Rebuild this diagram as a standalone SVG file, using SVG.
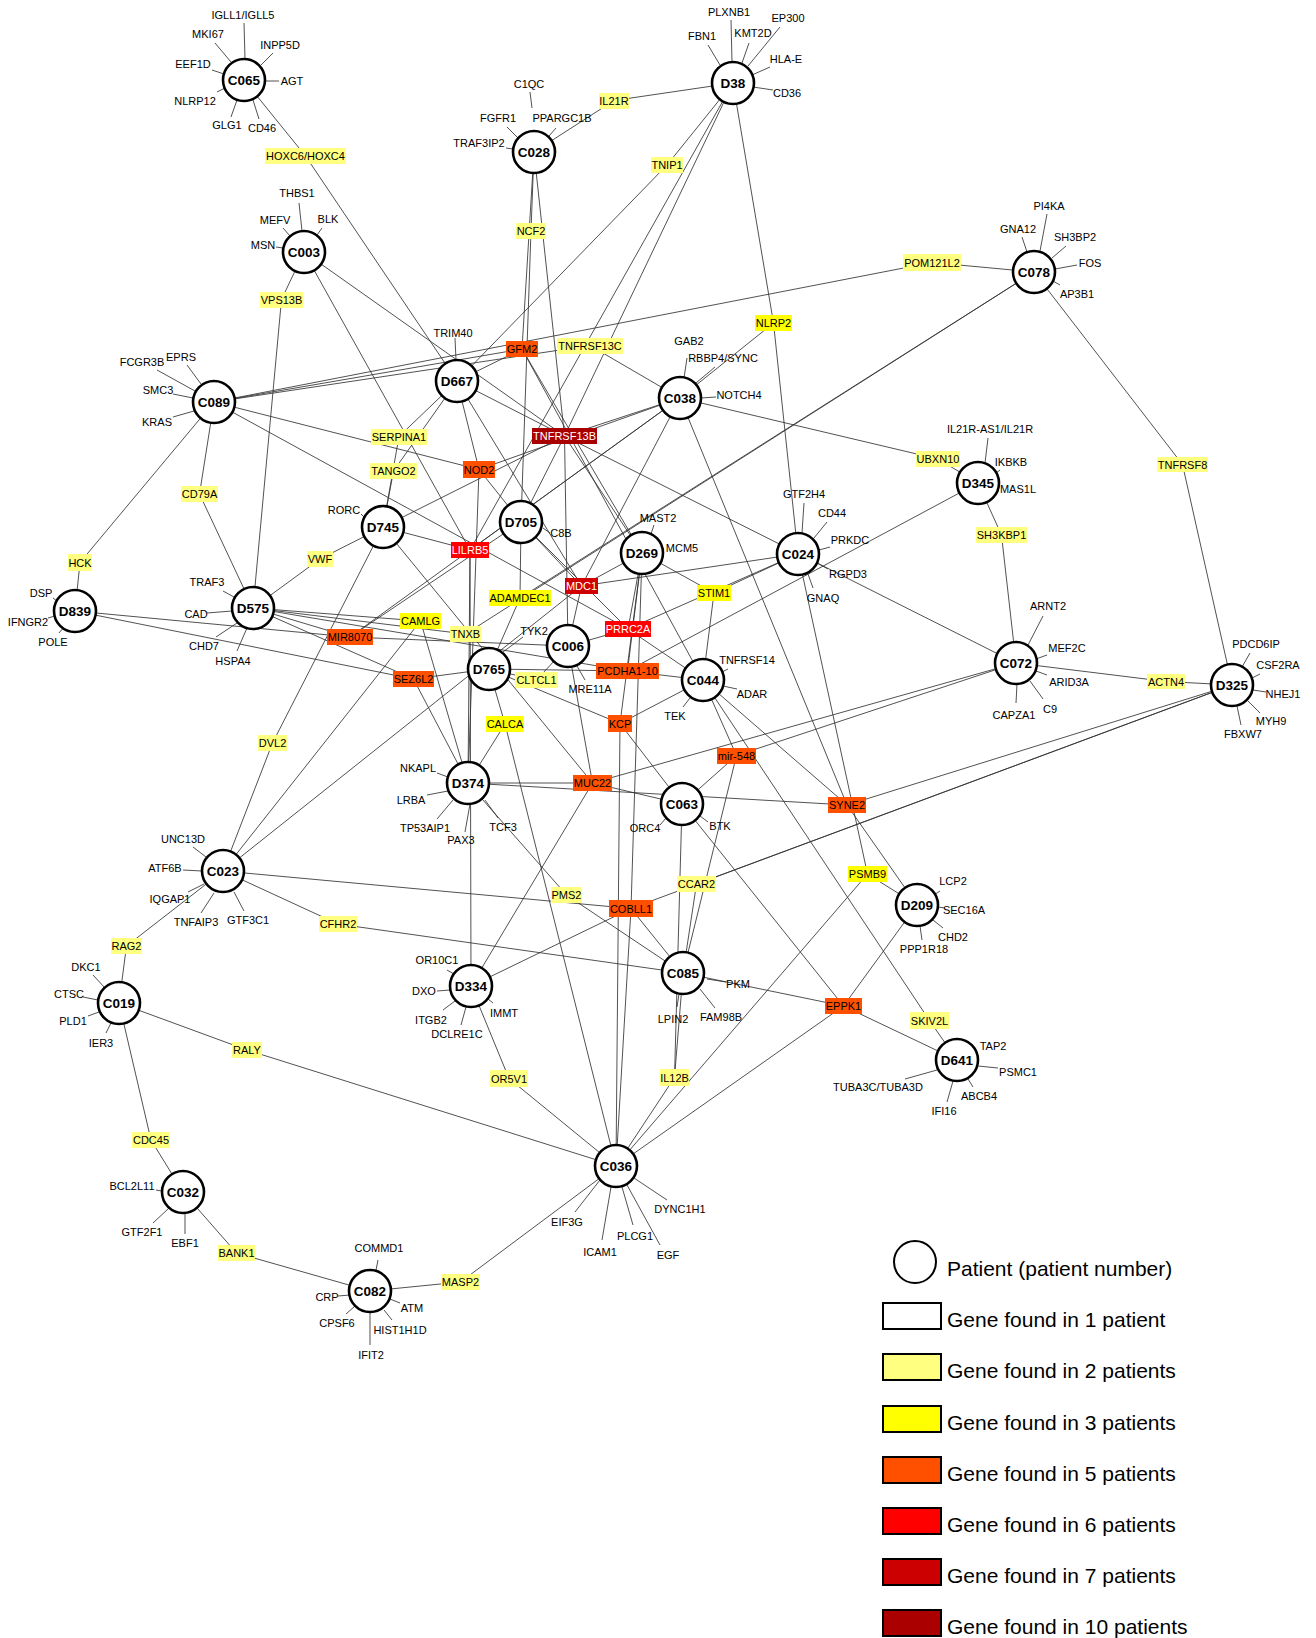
<svg xmlns="http://www.w3.org/2000/svg" width="1316" height="1638" viewBox="0 0 1316 1638">
<style>
.e{stroke:#333;stroke-width:0.85;fill:none}
.pc{fill:#fff;stroke:#000;stroke-width:2.6}
.pt{font-family:"Liberation Sans",Arial,sans-serif;font-weight:bold;font-size:13.5px;text-anchor:middle;fill:#000}
.gt{font-family:"Liberation Sans",Arial,sans-serif;font-size:11px;text-anchor:middle;fill:#000}
.wt{fill:#fff}
.ly{fill:#FFFF80}.y3{fill:#FFFF00}.o5{fill:#FF5000}.r6{fill:#FF0000}.r7{fill:#D00000}.r10{fill:#A80000}
.lg{font-family:"Liberation Sans",Arial,sans-serif;font-size:21px;fill:#000}
.lr{stroke:#000;stroke-width:2}
</style>
<rect width="1316" height="1638" fill="#fff"/>
<g id="connectors">
<line class="e" x1="305.5" y1="156" x2="244" y2="80"/><line class="e" x1="305.5" y1="156" x2="457" y2="381"/>
<line class="e" x1="281.5" y1="299.5" x2="304" y2="252"/><line class="e" x1="281.5" y1="299.5" x2="253" y2="608"/>
<line class="e" x1="614" y1="100.5" x2="534" y2="152"/><line class="e" x1="614" y1="100.5" x2="733" y2="83"/>
<line class="e" x1="667" y1="165" x2="733" y2="83"/><line class="e" x1="667" y1="165" x2="457" y2="381"/>
<line class="e" x1="531" y1="231" x2="534" y2="152"/><line class="e" x1="531" y1="231" x2="521" y2="522"/>
<line class="e" x1="522" y1="349" x2="214" y2="402"/><line class="e" x1="522" y1="349" x2="457" y2="381"/><line class="e" x1="522" y1="349" x2="534" y2="152"/><line class="e" x1="522" y1="349" x2="642" y2="553"/><line class="e" x1="522" y1="349" x2="703" y2="680"/>
<line class="e" x1="590" y1="345.5" x2="214" y2="402"/><line class="e" x1="590" y1="345.5" x2="680" y2="398"/>
<line class="e" x1="773.5" y1="323" x2="733" y2="83"/><line class="e" x1="773.5" y1="323" x2="680" y2="398"/><line class="e" x1="773.5" y1="323" x2="798" y2="554"/>
<line class="e" x1="932" y1="262.5" x2="214" y2="402"/><line class="e" x1="932" y1="262.5" x2="1034" y2="272"/>
<line class="e" x1="399" y1="436.5" x2="457" y2="381"/><line class="e" x1="399" y1="436.5" x2="383" y2="527"/>
<line class="e" x1="393.5" y1="471" x2="457" y2="381"/><line class="e" x1="393.5" y1="471" x2="383" y2="527"/>
<line class="e" x1="199.5" y1="494" x2="214" y2="402"/><line class="e" x1="199.5" y1="494" x2="253" y2="608"/>
<line class="e" x1="80" y1="562.5" x2="214" y2="402"/><line class="e" x1="80" y1="562.5" x2="75" y2="611"/>
<line class="e" x1="320" y1="559" x2="253" y2="608"/><line class="e" x1="320" y1="559" x2="383" y2="527"/>
<line class="e" x1="420.5" y1="621" x2="253" y2="608"/><line class="e" x1="420.5" y1="621" x2="223" y2="871"/><line class="e" x1="420.5" y1="621" x2="468" y2="783"/>
<line class="e" x1="350" y1="637" x2="253" y2="608"/><line class="e" x1="350" y1="637" x2="75" y2="611"/><line class="e" x1="350" y1="637" x2="680" y2="398"/><line class="e" x1="350" y1="637" x2="521" y2="522"/><line class="e" x1="350" y1="637" x2="568" y2="646"/>
<line class="e" x1="413.5" y1="679" x2="75" y2="611"/><line class="e" x1="413.5" y1="679" x2="253" y2="608"/><line class="e" x1="413.5" y1="679" x2="468" y2="783"/><line class="e" x1="413.5" y1="679" x2="489" y2="669"/>
<line class="e" x1="272.5" y1="743" x2="383" y2="527"/><line class="e" x1="272.5" y1="743" x2="223" y2="871"/>
<line class="e" x1="564.5" y1="436" x2="733" y2="83"/><line class="e" x1="564.5" y1="436" x2="304" y2="252"/><line class="e" x1="564.5" y1="436" x2="534" y2="152"/><line class="e" x1="564.5" y1="436" x2="457" y2="381"/><line class="e" x1="564.5" y1="436" x2="680" y2="398"/><line class="e" x1="564.5" y1="436" x2="383" y2="527"/><line class="e" x1="564.5" y1="436" x2="521" y2="522"/><line class="e" x1="564.5" y1="436" x2="568" y2="646"/><line class="e" x1="564.5" y1="436" x2="642" y2="553"/><line class="e" x1="564.5" y1="436" x2="1016" y2="663"/>
<line class="e" x1="479" y1="469.5" x2="214" y2="402"/><line class="e" x1="479" y1="469.5" x2="680" y2="398"/><line class="e" x1="479" y1="469.5" x2="457" y2="381"/><line class="e" x1="479" y1="469.5" x2="468" y2="783"/><line class="e" x1="479" y1="469.5" x2="521" y2="522"/>
<line class="e" x1="470" y1="550" x2="304" y2="252"/><line class="e" x1="470" y1="550" x2="733" y2="83"/><line class="e" x1="470" y1="550" x2="383" y2="527"/><line class="e" x1="470" y1="550" x2="680" y2="398"/><line class="e" x1="470" y1="550" x2="468" y2="783"/><line class="e" x1="470" y1="550" x2="471" y2="986"/>
<line class="e" x1="581.5" y1="586" x2="457" y2="381"/><line class="e" x1="581.5" y1="586" x2="642" y2="553"/><line class="e" x1="581.5" y1="586" x2="798" y2="554"/><line class="e" x1="581.5" y1="586" x2="568" y2="646"/><line class="e" x1="581.5" y1="586" x2="521" y2="522"/><line class="e" x1="581.5" y1="586" x2="680" y2="398"/><line class="e" x1="581.5" y1="586" x2="223" y2="871"/>
<line class="e" x1="520" y1="598" x2="1034" y2="272"/><line class="e" x1="520" y1="598" x2="521" y2="522"/><line class="e" x1="520" y1="598" x2="489" y2="669"/>
<line class="e" x1="465.5" y1="634" x2="1034" y2="272"/><line class="e" x1="465.5" y1="634" x2="253" y2="608"/>
<line class="e" x1="628" y1="629" x2="568" y2="646"/><line class="e" x1="628" y1="629" x2="703" y2="680"/><line class="e" x1="628" y1="629" x2="798" y2="554"/><line class="e" x1="628" y1="629" x2="521" y2="522"/><line class="e" x1="628" y1="629" x2="642" y2="553"/><line class="e" x1="628" y1="629" x2="214" y2="402"/>
<line class="e" x1="714" y1="593" x2="798" y2="554"/><line class="e" x1="714" y1="593" x2="642" y2="553"/><line class="e" x1="714" y1="593" x2="703" y2="680"/>
<line class="e" x1="536.5" y1="680" x2="489" y2="669"/><line class="e" x1="536.5" y1="680" x2="568" y2="646"/>
<line class="e" x1="627.5" y1="671" x2="253" y2="608"/><line class="e" x1="627.5" y1="671" x2="489" y2="669"/><line class="e" x1="627.5" y1="671" x2="703" y2="680"/><line class="e" x1="627.5" y1="671" x2="642" y2="553"/><line class="e" x1="627.5" y1="671" x2="978" y2="483"/>
<line class="e" x1="505" y1="724" x2="489" y2="669"/><line class="e" x1="505" y1="724" x2="468" y2="783"/><line class="e" x1="505" y1="724" x2="616" y2="1166"/>
<line class="e" x1="620" y1="723.5" x2="489" y2="669"/><line class="e" x1="620" y1="723.5" x2="703" y2="680"/><line class="e" x1="620" y1="723.5" x2="682" y2="804"/><line class="e" x1="620" y1="723.5" x2="616" y2="1166"/><line class="e" x1="620" y1="723.5" x2="642" y2="553"/>
<line class="e" x1="736.5" y1="755.5" x2="1016" y2="663"/><line class="e" x1="736.5" y1="755.5" x2="703" y2="680"/><line class="e" x1="736.5" y1="755.5" x2="683" y2="973"/><line class="e" x1="736.5" y1="755.5" x2="682" y2="804"/>
<line class="e" x1="592.5" y1="783" x2="468" y2="783"/><line class="e" x1="592.5" y1="783" x2="682" y2="804"/><line class="e" x1="592.5" y1="783" x2="1016" y2="663"/><line class="e" x1="592.5" y1="783" x2="471" y2="986"/><line class="e" x1="592.5" y1="783" x2="568" y2="646"/><line class="e" x1="592.5" y1="783" x2="383" y2="527"/>
<line class="e" x1="847" y1="805" x2="468" y2="783"/><line class="e" x1="847" y1="805" x2="1232" y2="685"/><line class="e" x1="847" y1="805" x2="917" y2="905"/><line class="e" x1="847" y1="805" x2="703" y2="680"/><line class="e" x1="847" y1="805" x2="680" y2="398"/>
<line class="e" x1="938" y1="459" x2="680" y2="398"/><line class="e" x1="938" y1="459" x2="978" y2="483"/>
<line class="e" x1="1182.5" y1="464.5" x2="1034" y2="272"/><line class="e" x1="1182.5" y1="464.5" x2="1232" y2="685"/>
<line class="e" x1="1001.5" y1="535" x2="978" y2="483"/><line class="e" x1="1001.5" y1="535" x2="1016" y2="663"/>
<line class="e" x1="1166" y1="681.5" x2="1016" y2="663"/><line class="e" x1="1166" y1="681.5" x2="1232" y2="685"/>
<line class="e" x1="338" y1="924" x2="223" y2="871"/><line class="e" x1="338" y1="924" x2="683" y2="973"/>
<line class="e" x1="126.5" y1="946" x2="223" y2="871"/><line class="e" x1="126.5" y1="946" x2="119" y2="1003"/>
<line class="e" x1="247" y1="1050" x2="119" y2="1003"/><line class="e" x1="247" y1="1050" x2="616" y2="1166"/>
<line class="e" x1="151" y1="1140" x2="119" y2="1003"/><line class="e" x1="151" y1="1140" x2="183" y2="1192"/>
<line class="e" x1="566.5" y1="895" x2="468" y2="783"/><line class="e" x1="566.5" y1="895" x2="683" y2="973"/>
<line class="e" x1="631" y1="908.5" x2="223" y2="871"/><line class="e" x1="631" y1="908.5" x2="616" y2="1166"/><line class="e" x1="631" y1="908.5" x2="471" y2="986"/><line class="e" x1="631" y1="908.5" x2="683" y2="973"/><line class="e" x1="631" y1="908.5" x2="642" y2="553"/><line class="e" x1="631" y1="908.5" x2="1232" y2="685"/>
<line class="e" x1="696.5" y1="884" x2="683" y2="973"/><line class="e" x1="696.5" y1="884" x2="1232" y2="685"/>
<line class="e" x1="867.5" y1="874" x2="798" y2="554"/><line class="e" x1="867.5" y1="874" x2="917" y2="905"/><line class="e" x1="867.5" y1="874" x2="616" y2="1166"/>
<line class="e" x1="843.5" y1="1006" x2="683" y2="973"/><line class="e" x1="843.5" y1="1006" x2="957" y2="1060"/><line class="e" x1="843.5" y1="1006" x2="616" y2="1166"/><line class="e" x1="843.5" y1="1006" x2="682" y2="804"/><line class="e" x1="843.5" y1="1006" x2="917" y2="905"/>
<line class="e" x1="509" y1="1078.5" x2="471" y2="986"/><line class="e" x1="509" y1="1078.5" x2="616" y2="1166"/>
<line class="e" x1="674.5" y1="1077.5" x2="683" y2="973"/><line class="e" x1="674.5" y1="1077.5" x2="616" y2="1166"/><line class="e" x1="674.5" y1="1077.5" x2="682" y2="804"/>
<line class="e" x1="929.5" y1="1020.5" x2="703" y2="680"/><line class="e" x1="929.5" y1="1020.5" x2="957" y2="1060"/>
<line class="e" x1="236.5" y1="1253" x2="183" y2="1192"/><line class="e" x1="236.5" y1="1253" x2="370" y2="1291"/>
<line class="e" x1="460.5" y1="1282" x2="370" y2="1291"/><line class="e" x1="460.5" y1="1282" x2="616" y2="1166"/>
<line class="e" x1="244" y1="23" x2="245" y2="59"/><line class="e" x1="215" y1="43" x2="231" y2="62"/><line class="e" x1="273" y1="53" x2="261" y2="65"/><line class="e" x1="212" y1="70" x2="224" y2="74"/><line class="e" x1="266" y1="81" x2="279" y2="81"/><line class="e" x1="217" y1="92" x2="225" y2="88"/><line class="e" x1="231" y1="117" x2="237" y2="100"/><line class="e" x1="259" y1="119" x2="253" y2="100"/>
<line class="e" x1="731" y1="20" x2="732" y2="62"/><line class="e" x1="708" y1="45" x2="720" y2="65"/><line class="e" x1="749" y1="43" x2="742" y2="63"/><line class="e" x1="780" y1="27" x2="748" y2="66"/><line class="e" x1="770" y1="67" x2="752" y2="75"/><line class="e" x1="773" y1="90" x2="753" y2="87"/>
<line class="e" x1="530" y1="92" x2="532" y2="108"/><line class="e" x1="507" y1="127" x2="518" y2="138"/><line class="e" x1="549" y1="136" x2="556" y2="128"/><line class="e" x1="506" y1="148" x2="513" y2="149"/>
<line class="e" x1="299" y1="203" x2="302" y2="231"/><line class="e" x1="283" y1="228" x2="290" y2="236"/><line class="e" x1="322" y1="228" x2="317" y2="235"/><line class="e" x1="276" y1="247" x2="283" y2="248"/>
<line class="e" x1="1047" y1="214" x2="1040" y2="251"/><line class="e" x1="1022" y1="237" x2="1027" y2="252"/><line class="e" x1="1066" y1="246" x2="1052" y2="258"/><line class="e" x1="1077" y1="265" x2="1055" y2="269"/><line class="e" x1="1060" y1="285" x2="1053" y2="281"/>
<line class="e" x1="157" y1="370" x2="195" y2="391"/><line class="e" x1="187" y1="365" x2="201" y2="384"/><line class="e" x1="173" y1="394" x2="193" y2="398"/><line class="e" x1="173" y1="417" x2="194" y2="411"/>
<line class="e" x1="455" y1="338" x2="456" y2="360"/>
<line class="e" x1="687" y1="358" x2="684" y2="378"/><line class="e" x1="715" y1="367" x2="696" y2="383"/><line class="e" x1="701" y1="398" x2="716" y2="397"/>
<line class="e" x1="988" y1="438" x2="985" y2="463"/><line class="e" x1="1000" y1="470" x2="996" y2="473"/>
<line class="e" x1="53" y1="598" x2="58" y2="602"/><line class="e" x1="48" y1="618" x2="55" y2="616"/><line class="e" x1="59" y1="633" x2="64" y2="627"/>
<line class="e" x1="223" y1="591" x2="234" y2="597"/><line class="e" x1="207" y1="613" x2="232" y2="611"/><line class="e" x1="216" y1="637" x2="237" y2="623"/><line class="e" x1="237" y1="651" x2="247" y2="628"/>
<line class="e" x1="361" y1="514" x2="366" y2="519"/>
<line class="e" x1="543" y1="528" x2="550" y2="533"/>
<line class="e" x1="654" y1="525" x2="651" y2="534"/>
<line class="e" x1="804" y1="503" x2="802" y2="533"/><line class="e" x1="827" y1="522" x2="814" y2="538"/><line class="e" x1="830" y1="547" x2="819" y2="550"/><line class="e" x1="828" y1="569" x2="817" y2="563"/><line class="e" x1="813" y1="588" x2="808" y2="574"/>
<line class="e" x1="585" y1="680" x2="577" y2="666"/>
<line class="e" x1="523" y1="637" x2="503" y2="652"/>
<line class="e" x1="728" y1="669" x2="722" y2="672"/><line class="e" x1="737" y1="689" x2="723" y2="686"/><line class="e" x1="683" y1="707" x2="690" y2="698"/>
<line class="e" x1="1043" y1="616" x2="1028" y2="645"/><line class="e" x1="1047" y1="655" x2="1036" y2="659"/><line class="e" x1="1047" y1="675" x2="1036" y2="671"/><line class="e" x1="1043" y1="699" x2="1030" y2="681"/><line class="e" x1="1016" y1="703" x2="1017" y2="684"/>
<line class="e" x1="1250" y1="653" x2="1242" y2="667"/><line class="e" x1="1260" y1="674" x2="1252" y2="678"/><line class="e" x1="1266" y1="692" x2="1253" y2="690"/><line class="e" x1="1260" y1="713" x2="1248" y2="701"/><line class="e" x1="1241" y1="725" x2="1237" y2="706"/>
<line class="e" x1="437" y1="773" x2="448" y2="777"/><line class="e" x1="427" y1="795" x2="448" y2="791"/><line class="e" x1="437" y1="819" x2="453" y2="800"/><line class="e" x1="465" y1="832" x2="470" y2="804"/><line class="e" x1="498" y1="818" x2="485" y2="800"/>
<line class="e" x1="660" y1="825" x2="666" y2="818"/><line class="e" x1="708" y1="822" x2="700" y2="816"/>
<line class="e" x1="193" y1="847" x2="206" y2="857"/><line class="e" x1="183" y1="870" x2="202" y2="871"/><line class="e" x1="188" y1="892" x2="204" y2="884"/><line class="e" x1="201" y1="913" x2="214" y2="893"/><line class="e" x1="244" y1="911" x2="234" y2="892"/>
<line class="e" x1="940" y1="891" x2="934" y2="895"/><line class="e" x1="938" y1="907" x2="945" y2="908"/><line class="e" x1="943" y1="928" x2="933" y2="920"/><line class="e" x1="922" y1="940" x2="920" y2="926"/>
<line class="e" x1="447" y1="970" x2="454" y2="974"/><line class="e" x1="437" y1="991" x2="450" y2="990"/><line class="e" x1="443" y1="1010" x2="455" y2="1001"/><line class="e" x1="461" y1="1025" x2="466" y2="1007"/><line class="e" x1="493" y1="1003" x2="488" y2="999"/>
<line class="e" x1="707" y1="979" x2="726" y2="982"/><line class="e" x1="677" y1="1007" x2="679" y2="994"/><line class="e" x1="715" y1="1008" x2="700" y2="989"/>
<line class="e" x1="93" y1="975" x2="105" y2="988"/><line class="e" x1="83" y1="997" x2="98" y2="1000"/><line class="e" x1="88" y1="1016" x2="99" y2="1012"/><line class="e" x1="106" y1="1033" x2="111" y2="1023"/>
<line class="e" x1="978" y1="1053" x2="974" y2="1050"/><line class="e" x1="998" y1="1068" x2="978" y2="1066"/><line class="e" x1="973" y1="1087" x2="968" y2="1079"/><line class="e" x1="947" y1="1102" x2="953" y2="1081"/><line class="e" x1="905" y1="1079" x2="937" y2="1070"/>
<line class="e" x1="575" y1="1212" x2="600" y2="1180"/><line class="e" x1="602" y1="1240" x2="611" y2="1187"/><line class="e" x1="633" y1="1225" x2="622" y2="1187"/><line class="e" x1="660" y1="1245" x2="627" y2="1185"/><line class="e" x1="667" y1="1200" x2="634" y2="1178"/>
<line class="e" x1="156" y1="1190" x2="162" y2="1191"/><line class="e" x1="153" y1="1223" x2="169" y2="1208"/><line class="e" x1="185" y1="1234" x2="185" y2="1213"/>
<line class="e" x1="378" y1="1260" x2="376" y2="1270"/><line class="e" x1="338" y1="1296" x2="350" y2="1295"/><line class="e" x1="400" y1="1303" x2="390" y2="1299"/><line class="e" x1="346" y1="1314" x2="355" y2="1306"/><line class="e" x1="392" y1="1320" x2="384" y2="1310"/><line class="e" x1="370" y1="1312" x2="370" y2="1345"/>
</g>
<g id="genes">
<g id="g-HOXC6"><rect class="ly" x="265" y="148" width="81" height="16"/><text class="gt" x="305.5" y="160">HOXC6/HOXC4</text></g>
<g id="g-VPS13B"><rect class="ly" x="260" y="292" width="43" height="16"/><text class="gt" x="281.5" y="304">VPS13B</text></g>
<g id="g-IL21R"><rect class="ly" x="599" y="93" width="30" height="16"/><text class="gt" x="614" y="105">IL21R</text></g>
<g id="g-TNIP1"><rect class="ly" x="651" y="157" width="32" height="16"/><text class="gt" x="667" y="169">TNIP1</text></g>
<g id="g-NCF2"><rect class="ly" x="516" y="223" width="30" height="16"/><text class="gt" x="531" y="235">NCF2</text></g>
<g id="g-GFM2"><rect class="o5" x="506" y="341" width="32" height="16"/><text class="gt" x="522" y="353">GFM2</text></g>
<g id="g-TNFRSF13C"><rect class="ly" x="557" y="338" width="66" height="16"/><text class="gt" x="590" y="350">TNFRSF13C</text></g>
<g id="g-NLRP2"><rect class="y3" x="755" y="315" width="37" height="16"/><text class="gt" x="773.5" y="327">NLRP2</text></g>
<g id="g-POM121L2"><rect class="ly" x="903" y="254" width="58" height="17"/><text class="gt" x="932" y="266.5">POM121L2</text></g>
<g id="g-SERPINA1"><rect class="ly" x="371" y="429" width="56" height="16"/><text class="gt" x="399" y="441">SERPINA1</text></g>
<g id="g-TANGO2"><rect class="ly" x="370" y="463" width="47" height="16"/><text class="gt" x="393.5" y="475">TANGO2</text></g>
<g id="g-CD79A"><rect class="ly" x="181" y="486" width="37" height="16"/><text class="gt" x="199.5" y="498">CD79A</text></g>
<g id="g-HCK"><rect class="ly" x="68" y="554" width="24" height="17"/><text class="gt" x="80" y="566.5">HCK</text></g>
<g id="g-VWF"><rect class="ly" x="307" y="551" width="26" height="16"/><text class="gt" x="320" y="563">VWF</text></g>
<g id="g-CAMLG"><rect class="y3" x="400" y="613" width="41" height="16"/><text class="gt" x="420.5" y="625">CAMLG</text></g>
<g id="g-MIR8070"><rect class="o5" x="327" y="629" width="46" height="16"/><text class="gt" x="350" y="641">MIR8070</text></g>
<g id="g-SEZ6L2"><rect class="o5" x="393" y="671" width="41" height="16"/><text class="gt" x="413.5" y="683">SEZ6L2</text></g>
<g id="g-DVL2"><rect class="ly" x="258" y="735" width="29" height="16"/><text class="gt" x="272.5" y="747">DVL2</text></g>
<g id="g-TNFRSF13B"><rect class="r10" x="532" y="428" width="65" height="16"/><text class="gt wt" x="564.5" y="440">TNFRSF13B</text></g>
<g id="g-NOD2"><rect class="o5" x="463" y="461" width="32" height="17"/><text class="gt" x="479" y="473.5">NOD2</text></g>
<g id="g-LILRB5"><rect class="r6" x="451" y="542" width="38" height="16"/><text class="gt wt" x="470" y="554">LILRB5</text></g>
<g id="g-MDC1"><rect class="r7" x="565" y="578" width="33" height="16"/><text class="gt wt" x="581.5" y="590">MDC1</text></g>
<g id="g-ADAMDEC1"><rect class="y3" x="489" y="590" width="62" height="16"/><text class="gt" x="520" y="602">ADAMDEC1</text></g>
<g id="g-TNXB"><rect class="ly" x="450" y="626" width="31" height="16"/><text class="gt" x="465.5" y="638">TNXB</text></g>
<g id="g-PRRC2A"><rect class="r6" x="605" y="621" width="46" height="16"/><text class="gt wt" x="628" y="633">PRRC2A</text></g>
<g id="g-STIM1"><rect class="y3" x="697" y="585" width="34" height="16"/><text class="gt" x="714" y="597">STIM1</text></g>
<g id="g-CLTCL1"><rect class="ly" x="515" y="672" width="43" height="16"/><text class="gt" x="536.5" y="684">CLTCL1</text></g>
<g id="g-PCDHA1-10"><rect class="o5" x="596" y="663" width="63" height="16"/><text class="gt" x="627.5" y="675">PCDHA1-10</text></g>
<g id="g-CALCA"><rect class="y3" x="486" y="716" width="38" height="16"/><text class="gt" x="505" y="728">CALCA</text></g>
<g id="g-KCP"><rect class="o5" x="608" y="715" width="24" height="17"/><text class="gt" x="620" y="727.5">KCP</text></g>
<g id="g-mir-548"><rect class="o5" x="717" y="748" width="39" height="16"/><text class="gt" x="736.5" y="760">mir-548</text></g>
<g id="g-MUC22"><rect class="o5" x="573" y="775" width="39" height="16"/><text class="gt" x="592.5" y="787">MUC22</text></g>
<g id="g-SYNE2"><rect class="o5" x="828" y="797" width="38" height="16"/><text class="gt" x="847" y="809">SYNE2</text></g>
<g id="g-UBXN10"><rect class="ly" x="916" y="451" width="44" height="16"/><text class="gt" x="938" y="463">UBXN10</text></g>
<g id="g-TNFRSF8"><rect class="ly" x="1157" y="457" width="51" height="15"/><text class="gt" x="1182.5" y="468.5">TNFRSF8</text></g>
<g id="g-SH3KBP1"><rect class="ly" x="976" y="527" width="51" height="16"/><text class="gt" x="1001.5" y="539">SH3KBP1</text></g>
<g id="g-ACTN4"><rect class="ly" x="1147" y="674" width="38" height="15"/><text class="gt" x="1166" y="685.5">ACTN4</text></g>
<g id="g-CFHR2"><rect class="ly" x="319" y="916" width="38" height="16"/><text class="gt" x="338" y="928">CFHR2</text></g>
<g id="g-RAG2"><rect class="ly" x="111" y="938" width="31" height="16"/><text class="gt" x="126.5" y="950">RAG2</text></g>
<g id="g-RALY"><rect class="ly" x="232" y="1042" width="30" height="16"/><text class="gt" x="247" y="1054">RALY</text></g>
<g id="g-CDC45"><rect class="ly" x="132" y="1132" width="38" height="16"/><text class="gt" x="151" y="1144">CDC45</text></g>
<g id="g-PMS2"><rect class="ly" x="551" y="887" width="31" height="16"/><text class="gt" x="566.5" y="899">PMS2</text></g>
<g id="g-COBLL1"><rect class="o5" x="609" y="900" width="44" height="17"/><text class="gt" x="631" y="912.5">COBLL1</text></g>
<g id="g-CCAR2"><rect class="ly" x="677" y="876" width="39" height="16"/><text class="gt" x="696.5" y="888">CCAR2</text></g>
<g id="g-PSMB9"><rect class="y3" x="848" y="866" width="39" height="16"/><text class="gt" x="867.5" y="878">PSMB9</text></g>
<g id="g-EPPK1"><rect class="o5" x="825" y="998" width="37" height="16"/><text class="gt" x="843.5" y="1010">EPPK1</text></g>
<g id="g-OR5V1"><rect class="ly" x="490" y="1070" width="38" height="17"/><text class="gt" x="509" y="1082.5">OR5V1</text></g>
<g id="g-IL12B"><rect class="ly" x="660" y="1069" width="29" height="17"/><text class="gt" x="674.5" y="1081.5">IL12B</text></g>
<g id="g-SKIV2L"><rect class="ly" x="910" y="1012" width="39" height="17"/><text class="gt" x="929.5" y="1024.5">SKIV2L</text></g>
<g id="g-BANK1"><rect class="ly" x="218" y="1245" width="37" height="16"/><text class="gt" x="236.5" y="1257">BANK1</text></g>
<g id="g-MASP2"><rect class="ly" x="441" y="1274" width="39" height="16"/><text class="gt" x="460.5" y="1286">MASP2</text></g>
</g>
<g id="single-genes">
<text class="gt" x="243" y="19">IGLL1/IGLL5</text><text class="gt" x="208" y="38">MKI67</text><text class="gt" x="280" y="49">INPP5D</text><text class="gt" x="193" y="68">EEF1D</text><text class="gt" x="292" y="85">AGT</text><text class="gt" x="195" y="105">NLRP12</text><text class="gt" x="227" y="129">GLG1</text><text class="gt" x="262" y="132">CD46</text>
<text class="gt" x="729" y="16">PLXNB1</text><text class="gt" x="702" y="40">FBN1</text><text class="gt" x="753" y="37">KMT2D</text><text class="gt" x="788" y="22">EP300</text><text class="gt" x="786" y="63">HLA-E</text><text class="gt" x="787" y="97">CD36</text>
<text class="gt" x="529" y="88">C1QC</text><text class="gt" x="498" y="122">FGFR1</text><text class="gt" x="562" y="122">PPARGC1B</text><text class="gt" x="479" y="147">TRAF3IP2</text>
<text class="gt" x="297" y="197">THBS1</text><text class="gt" x="275" y="224">MEFV</text><text class="gt" x="328" y="223">BLK</text><text class="gt" x="263" y="249">MSN</text>
<text class="gt" x="1049" y="210">PI4KA</text><text class="gt" x="1018" y="233">GNA12</text><text class="gt" x="1075" y="241">SH3BP2</text><text class="gt" x="1090" y="267">FOS</text><text class="gt" x="1077" y="298">AP3B1</text>
<text class="gt" x="142" y="366">FCGR3B</text><text class="gt" x="181" y="361">EPRS</text><text class="gt" x="158" y="394">SMC3</text><text class="gt" x="157" y="426">KRAS</text>
<text class="gt" x="453" y="337">TRIM40</text>
<text class="gt" x="689" y="345">GAB2</text><text class="gt" x="723" y="362">RBBP4/SYNC</text><text class="gt" x="739" y="399">NOTCH4</text>
<text class="gt" x="990" y="433">IL21R-AS1/IL21R</text><text class="gt" x="1011" y="466">IKBKB</text><text class="gt" x="1018" y="493">MAS1L</text>
<text class="gt" x="41" y="597">DSP</text><text class="gt" x="28" y="626">IFNGR2</text><text class="gt" x="53" y="646">POLE</text>
<text class="gt" x="207" y="586">TRAF3</text><text class="gt" x="196" y="618">CAD</text><text class="gt" x="204" y="650">CHD7</text><text class="gt" x="233" y="665">HSPA4</text>
<text class="gt" x="344" y="514">RORC</text>
<text class="gt" x="561" y="537">C8B</text>
<text class="gt" x="658" y="522">MAST2</text><text class="gt" x="682" y="552">MCM5</text>
<text class="gt" x="804" y="498">GTF2H4</text><text class="gt" x="832" y="517">CD44</text><text class="gt" x="850" y="544">PRKDC</text><text class="gt" x="848" y="578">RGPD3</text><text class="gt" x="823" y="602">GNAQ</text>
<text class="gt" x="590" y="693">MRE11A</text><text class="gt" x="534" y="635">TYK2</text>
<text class="gt" x="747" y="664">TNFRSF14</text><text class="gt" x="752" y="698">ADAR</text><text class="gt" x="675" y="720">TEK</text>
<text class="gt" x="1048" y="610">ARNT2</text><text class="gt" x="1067" y="652">MEF2C</text><text class="gt" x="1069" y="686">ARID3A</text><text class="gt" x="1050" y="713">C9</text><text class="gt" x="1014" y="719">CAPZA1</text>
<text class="gt" x="1256" y="648">PDCD6IP</text><text class="gt" x="1278" y="669">CSF2RA</text><text class="gt" x="1283" y="698">NHEJ1</text><text class="gt" x="1271" y="725">MYH9</text><text class="gt" x="1243" y="738">FBXW7</text>
<text class="gt" x="418" y="772">NKAPL</text><text class="gt" x="411" y="804">LRBA</text><text class="gt" x="425" y="832">TP53AIP1</text><text class="gt" x="461" y="844">PAX3</text><text class="gt" x="503" y="831">TCF3</text>
<text class="gt" x="645" y="832">ORC4</text><text class="gt" x="720" y="830">BTK</text>
<text class="gt" x="183" y="843">UNC13D</text><text class="gt" x="165" y="872">ATF6B</text><text class="gt" x="170" y="903">IQGAP1</text><text class="gt" x="196" y="926">TNFAIP3</text><text class="gt" x="248" y="924">GTF3C1</text>
<text class="gt" x="953" y="885">LCP2</text><text class="gt" x="964" y="914">SEC16A</text><text class="gt" x="953" y="941">CHD2</text><text class="gt" x="924" y="953">PPP1R18</text>
<text class="gt" x="437" y="964">OR10C1</text><text class="gt" x="424" y="995">DXO</text><text class="gt" x="431" y="1024">ITGB2</text><text class="gt" x="457" y="1038">DCLRE1C</text><text class="gt" x="504" y="1017">IMMT</text>
<text class="gt" x="738" y="988">PKM</text><text class="gt" x="673" y="1023">LPIN2</text><text class="gt" x="721" y="1021">FAM98B</text>
<text class="gt" x="86" y="971">DKC1</text><text class="gt" x="69" y="998">CTSC</text><text class="gt" x="73" y="1025">PLD1</text><text class="gt" x="101" y="1047">IER3</text>
<text class="gt" x="993" y="1050">TAP2</text><text class="gt" x="1018" y="1076">PSMC1</text><text class="gt" x="979" y="1100">ABCB4</text><text class="gt" x="944" y="1115">IFI16</text><text class="gt" x="878" y="1091">TUBA3C/TUBA3D</text>
<text class="gt" x="567" y="1226">EIF3G</text><text class="gt" x="600" y="1256">ICAM1</text><text class="gt" x="635" y="1240">PLCG1</text><text class="gt" x="668" y="1259">EGF</text><text class="gt" x="680" y="1213">DYNC1H1</text>
<text class="gt" x="132" y="1190">BCL2L11</text><text class="gt" x="142" y="1236">GTF2F1</text><text class="gt" x="185" y="1247">EBF1</text>
<text class="gt" x="379" y="1252">COMMD1</text><text class="gt" x="327" y="1301">CRP</text><text class="gt" x="412" y="1312">ATM</text><text class="gt" x="337" y="1327">CPSF6</text><text class="gt" x="400" y="1334">HIST1H1D</text><text class="gt" x="371" y="1359">IFIT2</text>
</g>
<g id="patients">
<g id="p-C065"><circle class="pc" cx="244" cy="80" r="21"/><text class="pt" x="244" y="85">C065</text></g>
<g id="p-D38"><circle class="pc" cx="733" cy="83" r="21"/><text class="pt" x="733" y="88">D38</text></g>
<g id="p-C028"><circle class="pc" cx="534" cy="152" r="21"/><text class="pt" x="534" y="157">C028</text></g>
<g id="p-C003"><circle class="pc" cx="304" cy="252" r="21"/><text class="pt" x="304" y="257">C003</text></g>
<g id="p-C078"><circle class="pc" cx="1034" cy="272" r="21"/><text class="pt" x="1034" y="277">C078</text></g>
<g id="p-C089"><circle class="pc" cx="214" cy="402" r="21"/><text class="pt" x="214" y="407">C089</text></g>
<g id="p-D667"><circle class="pc" cx="457" cy="381" r="21"/><text class="pt" x="457" y="386">D667</text></g>
<g id="p-C038"><circle class="pc" cx="680" cy="398" r="21"/><text class="pt" x="680" y="403">C038</text></g>
<g id="p-D345"><circle class="pc" cx="978" cy="483" r="21"/><text class="pt" x="978" y="488">D345</text></g>
<g id="p-D745"><circle class="pc" cx="383" cy="527" r="21"/><text class="pt" x="383" y="532">D745</text></g>
<g id="p-D705"><circle class="pc" cx="521" cy="522" r="21"/><text class="pt" x="521" y="527">D705</text></g>
<g id="p-D269"><circle class="pc" cx="642" cy="553" r="21"/><text class="pt" x="642" y="558">D269</text></g>
<g id="p-C024"><circle class="pc" cx="798" cy="554" r="21"/><text class="pt" x="798" y="559">C024</text></g>
<g id="p-D839"><circle class="pc" cx="75" cy="611" r="21"/><text class="pt" x="75" y="616">D839</text></g>
<g id="p-D575"><circle class="pc" cx="253" cy="608" r="21"/><text class="pt" x="253" y="613">D575</text></g>
<g id="p-C006"><circle class="pc" cx="568" cy="646" r="21"/><text class="pt" x="568" y="651">C006</text></g>
<g id="p-D765"><circle class="pc" cx="489" cy="669" r="21"/><text class="pt" x="489" y="674">D765</text></g>
<g id="p-C044"><circle class="pc" cx="703" cy="680" r="21"/><text class="pt" x="703" y="685">C044</text></g>
<g id="p-C072"><circle class="pc" cx="1016" cy="663" r="21"/><text class="pt" x="1016" y="668">C072</text></g>
<g id="p-D325"><circle class="pc" cx="1232" cy="685" r="21"/><text class="pt" x="1232" y="690">D325</text></g>
<g id="p-D374"><circle class="pc" cx="468" cy="783" r="21"/><text class="pt" x="468" y="788">D374</text></g>
<g id="p-C063"><circle class="pc" cx="682" cy="804" r="21"/><text class="pt" x="682" y="809">C063</text></g>
<g id="p-C023"><circle class="pc" cx="223" cy="871" r="21"/><text class="pt" x="223" y="876">C023</text></g>
<g id="p-D209"><circle class="pc" cx="917" cy="905" r="21"/><text class="pt" x="917" y="910">D209</text></g>
<g id="p-D334"><circle class="pc" cx="471" cy="986" r="21"/><text class="pt" x="471" y="991">D334</text></g>
<g id="p-C085"><circle class="pc" cx="683" cy="973" r="21"/><text class="pt" x="683" y="978">C085</text></g>
<g id="p-C019"><circle class="pc" cx="119" cy="1003" r="21"/><text class="pt" x="119" y="1008">C019</text></g>
<g id="p-D641"><circle class="pc" cx="957" cy="1060" r="21"/><text class="pt" x="957" y="1065">D641</text></g>
<g id="p-C036"><circle class="pc" cx="616" cy="1166" r="21"/><text class="pt" x="616" y="1171">C036</text></g>
<g id="p-C032"><circle class="pc" cx="183" cy="1192" r="21"/><text class="pt" x="183" y="1197">C032</text></g>
<g id="p-C082"><circle class="pc" cx="370" cy="1291" r="21"/><text class="pt" x="370" y="1296">C082</text></g>
</g>
<g id="legend">
<circle cx="915" cy="1262" r="21" fill="#fff" stroke="#000" stroke-width="2"/>
<text class="lg" x="947" y="1276">Patient (patient number)</text>
<rect class="lr" x="883" y="1303" width="58" height="26" fill="#fff"/><text class="lg" x="947" y="1327">Gene found in 1 patient</text>
<rect class="lr" x="883" y="1354" width="58" height="26" fill="#FFFF80"/><text class="lg" x="947" y="1378">Gene found in 2 patients</text>
<rect class="lr" x="883" y="1406" width="58" height="26" fill="#FFFF00"/><text class="lg" x="947" y="1430">Gene found in 3 patients</text>
<rect class="lr" x="883" y="1457" width="58" height="26" fill="#FF5000"/><text class="lg" x="947" y="1481">Gene found in 5 patients</text>
<rect class="lr" x="883" y="1508" width="58" height="26" fill="#FF0000"/><text class="lg" x="947" y="1532">Gene found in 6 patients</text>
<rect class="lr" x="883" y="1559" width="58" height="26" fill="#CC0000"/><text class="lg" x="947" y="1583">Gene found in 7 patients</text>
<rect class="lr" x="883" y="1610" width="58" height="26" fill="#AA0000"/><text class="lg" x="947" y="1634">Gene found in 10 patients</text>
</g>
</svg>
